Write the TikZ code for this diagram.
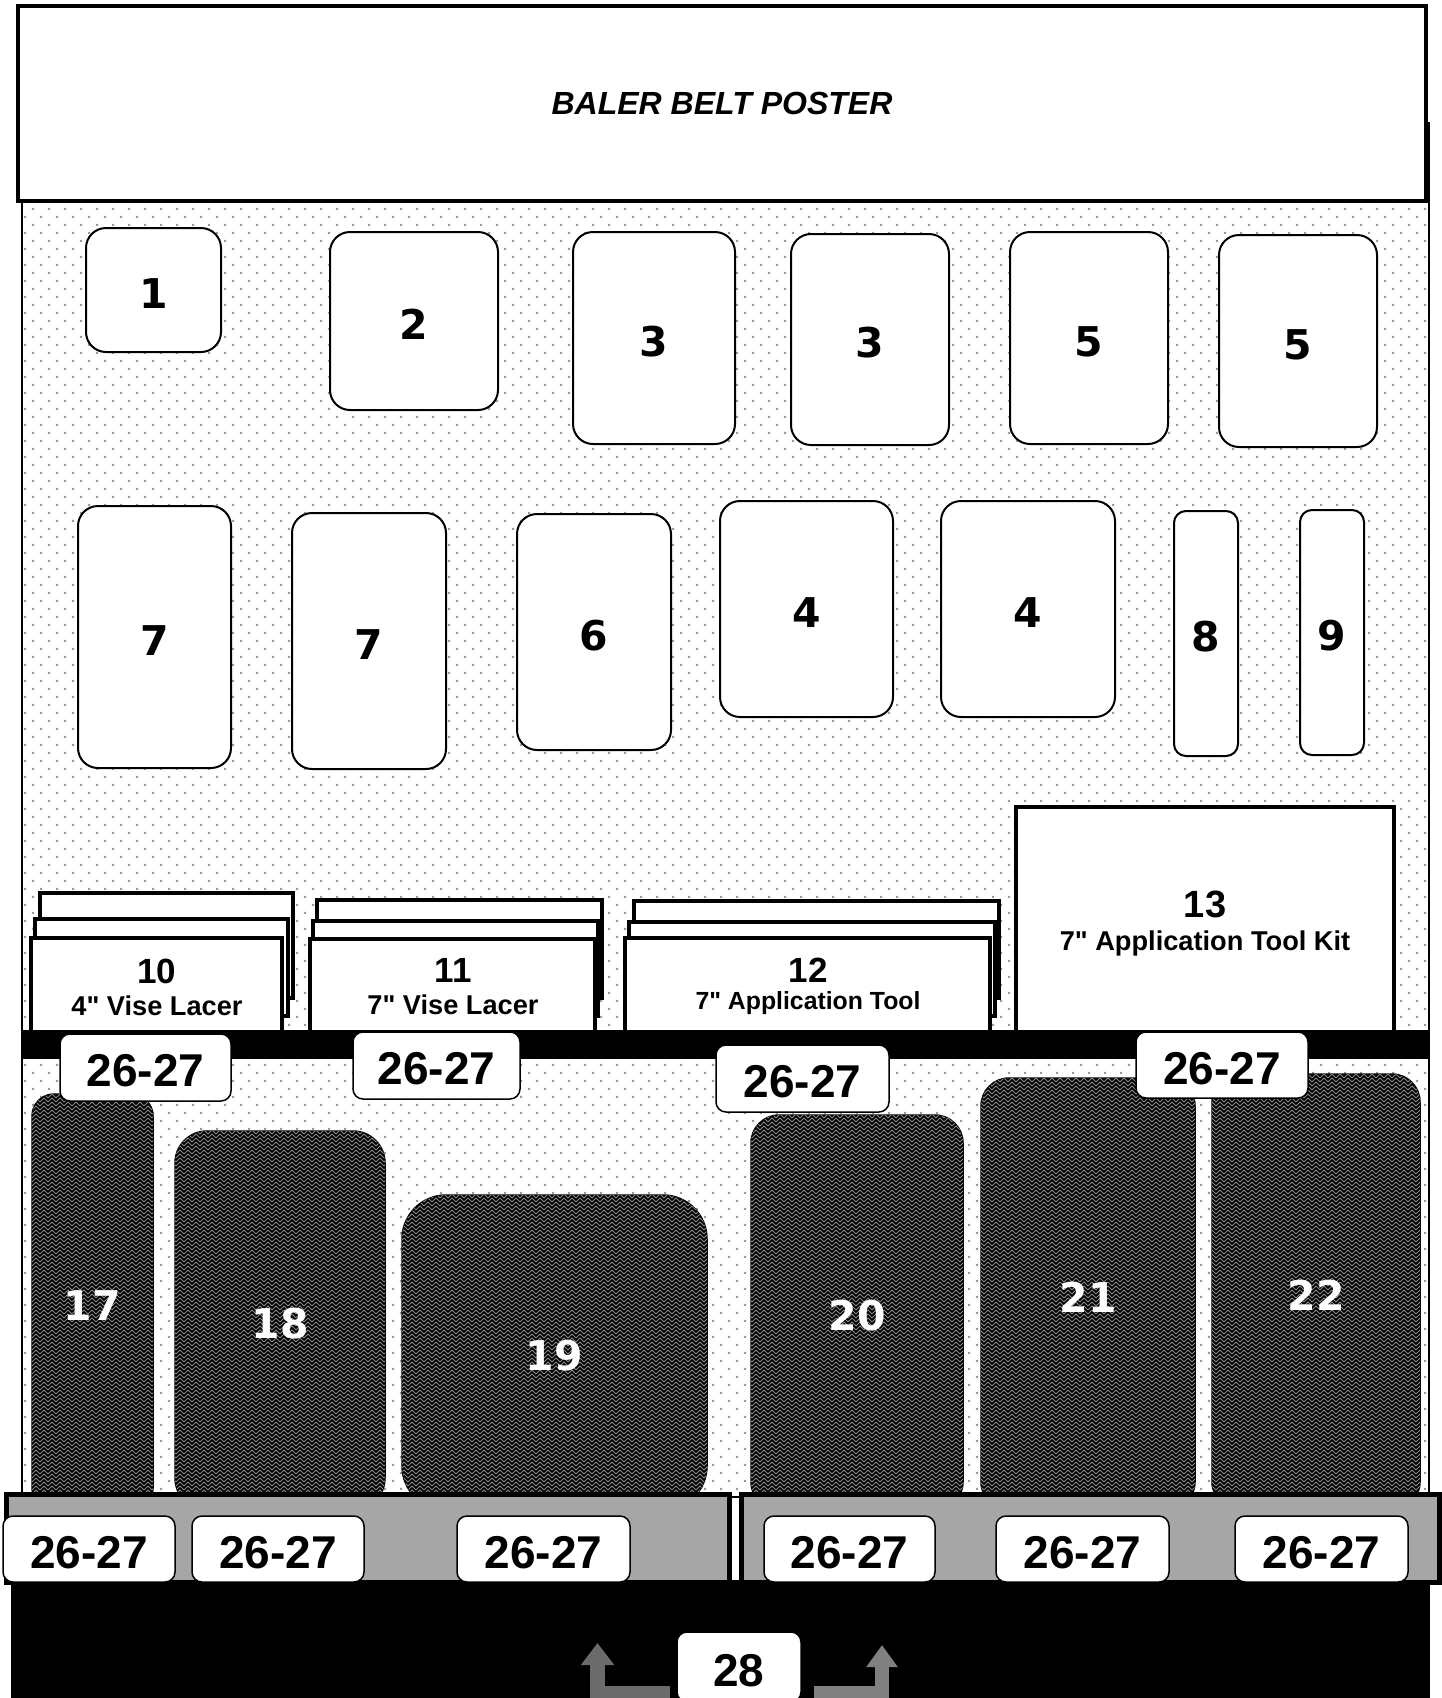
\documentclass[tikz,border=0pt]{standalone}
\usepackage{fontspec}
\setmainfont{Liberation Sans}
\newfontfamily\numfont{DejaVu Sans}
\usetikzlibrary{patterns,arrows.meta}

\pgfdeclarepatternformonly{paneldots}{\pgfqpoint{-0.1pt}{-0.1pt}}{\pgfqpoint{8.1pt}{8.1pt}}{\pgfqpoint{8pt}{8pt}}{%
  \pgfpathrectangle{\pgfqpoint{0pt}{0pt}}{\pgfqpoint{1pt}{1pt}}%
  \pgfpathrectangle{\pgfqpoint{4pt}{4pt}}{\pgfqpoint{1pt}{1pt}}%
  \pgfusepath{fill}}

\pgfdeclarepatternformonly{weave}{\pgfqpoint{-1pt}{-1pt}}{\pgfqpoint{5pt}{5pt}}{\pgfqpoint{4pt}{4pt}}{%
  \pgfsetlinewidth{0.5pt}%
  \pgfpathmoveto{\pgfqpoint{0pt}{0pt}}\pgfpathlineto{\pgfqpoint{2pt}{2pt}}\pgfpathlineto{\pgfqpoint{4pt}{0pt}}%
  \pgfpathmoveto{\pgfqpoint{0pt}{2pt}}\pgfpathlineto{\pgfqpoint{2pt}{4pt}}\pgfpathlineto{\pgfqpoint{4pt}{2pt}}%
  \pgfusepath{stroke}}

\definecolor{dotgray}{gray}{0.6}
\definecolor{weavegray}{gray}{0.55}
\definecolor{shelfgray}{HTML}{A6A6A6}
\definecolor{arrowL}{HTML}{6B6B6B}
\definecolor{arrowR}{HTML}{808080}

\newcommand\pbox[7]{\node[#1, minimum width={(#5-#3)*0.5pt}, minimum height={(#6-#4)*0.5pt}] (#2) at ({(#3+#5)/2},{(#4+#6)/2}) {#7};}
\newcommand\inch{\textquotedbl}

\tikzset{
  slot/.style={draw, line width=1pt, fill=white, rounded corners=10pt, text height=18pt, text depth=0pt, font=\numfont\bfseries\fontsize{20.5}{24}\selectfont},
  slim/.style={slot, rounded corners=6pt},
  layer/.style={draw, line width=2pt, fill=white},
  belt/.style={draw, line width=0.75pt, fill=black, postaction={pattern=weave, pattern color=weavegray}, text=white, text height=18pt, text depth=0pt, font=\numfont\bfseries\fontsize{20.5}{24}\selectfont},
  tag/.style={draw, line width=0.75pt, fill=white, rounded corners=5pt, text height=19pt, text depth=0pt, font=\bfseries\fontsize{23}{26}\selectfont},
  itemno/.style={font=\bfseries\fontsize{17.5}{20}\selectfont},
  itemtxt/.style={font=\bfseries\fontsize{13.6}{16}\selectfont},
  bar/.style={draw, line width=2.5pt, fill=shelfgray},
  base/.style={fill=black},
}

\begin{document}
\begin{tikzpicture}[x=0.5pt, y=-0.5pt, inner sep=0pt, outer sep=0pt]
\useasboundingbox (0,0) rectangle (1441,1698);

% panel
\fill[white] (22,123) rectangle (1429,1497);
\fill[pattern=paneldots, pattern color=dotgray] (22,123) rectangle (1429,1497);
\draw[line width=1pt] (22,123) rectangle (1429,1497);

% header
\pbox{draw, line width=2pt, fill=white, font=\bfseries\itshape\fontsize{16}{19}\selectfont}{header}{18}{6}{1426}{201}{BALER BELT POSTER}

% top row
\pbox{slot}{p1}{86}{228}{221}{352}{1}
\pbox{slot}{p2}{330}{232}{498}{410}{2}
\pbox{slot}{p3a}{573}{232}{735}{444}{3}
\pbox{slot}{p3b}{791}{234}{949}{445}{3}
\pbox{slot}{p5a}{1010}{232}{1168}{444}{5}
\pbox{slot}{p5b}{1219}{235}{1377}{447}{5}

% second row
\pbox{slot}{p7a}{78}{506}{231}{768}{7}
\pbox{slot}{p7b}{292}{513}{446}{769}{7}
\pbox{slot}{p6}{517}{514}{671}{750}{6}
\pbox{slot}{p4a}{720}{501}{893}{717}{4}
\pbox{slot}{p4b}{941}{501}{1115}{717}{4}
\pbox{slim}{p8}{1174}{511}{1238}{756}{8}
\pbox{slim}{p9}{1300}{510}{1364}{755}{9}

% shelf items 10
\pbox{layer}{s10c}{40}{893}{293}{998}{}
\pbox{layer}{s10b}{35}{919}{288}{1016}{}
\pbox{layer}{s10a}{31}{938}{282}{1040}{}
\node[itemno] (n10) at (157,971) {10};
\node[itemtxt] (t10) at (157,1006) {4\inch{} Vise Lacer};
% 11
\pbox{layer}{s11c}{317}{900}{602}{998}{}
\pbox{layer}{s11b}{313}{921}{598}{1016}{}
\pbox{layer}{s11a}{310}{939}{595}{1040}{}
\node[itemno] (n11) at (453,970) {11};
\node[itemtxt] (t11) at (453,1005) {7\inch{} Vise Lacer};
% 12
\pbox{layer}{s12c}{634}{901}{999}{998}{}
\pbox{layer}{s12b}{629}{922}{995}{1016}{}
\pbox{layer}{s12a}{625}{938}{990}{1040}{}
\node[itemno] (n12) at (808,970) {12};
\node[itemtxt, font=\bfseries\fontsize{12.4}{15}\selectfont] (t12) at (808,1003) {7\inch{} Application Tool};
% 13
\pbox{layer}{s13}{1016}{807}{1394}{1040}{}
\node[itemno, font=\bfseries\fontsize{19}{22}\selectfont] (n13) at (1205,904) {13};
\node[itemtxt] (t13) at (1205,943) {7\inch{} Application Tool Kit};

% upper shelf bar
\fill (21,1030) rectangle (1430,1059);

% belts
\pbox{belt, rounded corners=11pt}{b17}{32}{1094}{153}{1510}{17}
\pbox{belt, rounded corners=16pt}{b18}{175}{1131}{385}{1510}{18}
\pbox{belt, rounded corners=22pt}{b19}{402}{1195}{707}{1510}{19}
\pbox{belt, rounded corners=14pt}{b20}{751}{1115}{963}{1510}{20}
\pbox{belt, rounded corners=14pt}{b21}{981}{1078}{1195}{1510}{21}
\pbox{belt, rounded corners=14pt}{b22}{1212}{1074}{1420}{1510}{22}

% upper tags
\pbox{tag}{u1}{60}{1034}{231}{1101}{26-27}
\pbox{tag}{u2}{353}{1032}{520}{1099}{26-27}
\pbox{tag}{u3}{716}{1045}{889}{1112}{26-27}
\pbox{tag}{u4}{1136}{1032}{1308}{1098}{26-27}

% base and bottom shelves
\pbox{base}{floor}{11}{1580}{1430}{1710}{}
\pbox{bar}{shelfL}{6}{1494}{729}{1582}{}
\pbox{bar}{shelfR}{741}{1494}{1439}{1582}{}

% bottom tags
\pbox{tag}{l1}{3}{1516}{175}{1582}{26-27}
\pbox{tag}{l2}{192}{1516}{364}{1582}{26-27}
\pbox{tag}{l3}{457}{1516}{630}{1582}{26-27}
\pbox{tag}{l4}{764}{1516}{935}{1582}{26-27}
\pbox{tag}{l5}{996}{1516}{1169}{1582}{26-27}
\pbox{tag}{l6}{1235}{1516}{1408}{1582}{26-27}

% 28 and arrows
\pbox{tag}{n28}{677}{1632}{801}{1702}{28}
\coordinate (ls) at (0,1693);
\coordinate (lt) at (597.5,1643);
\coordinate (rt) at (882,1645);
\draw[line width=7.5pt, draw=arrowL, -{Triangle[length=11pt,width=16pt]}, shorten <=3.5pt] (n28.west |- ls) -| (lt);
\draw[line width=7pt, draw=arrowR, -{Triangle[length=11pt,width=15pt]}, shorten <=6.5pt] (n28.east |- ls) -| (rt);
\end{tikzpicture}
\end{document}
